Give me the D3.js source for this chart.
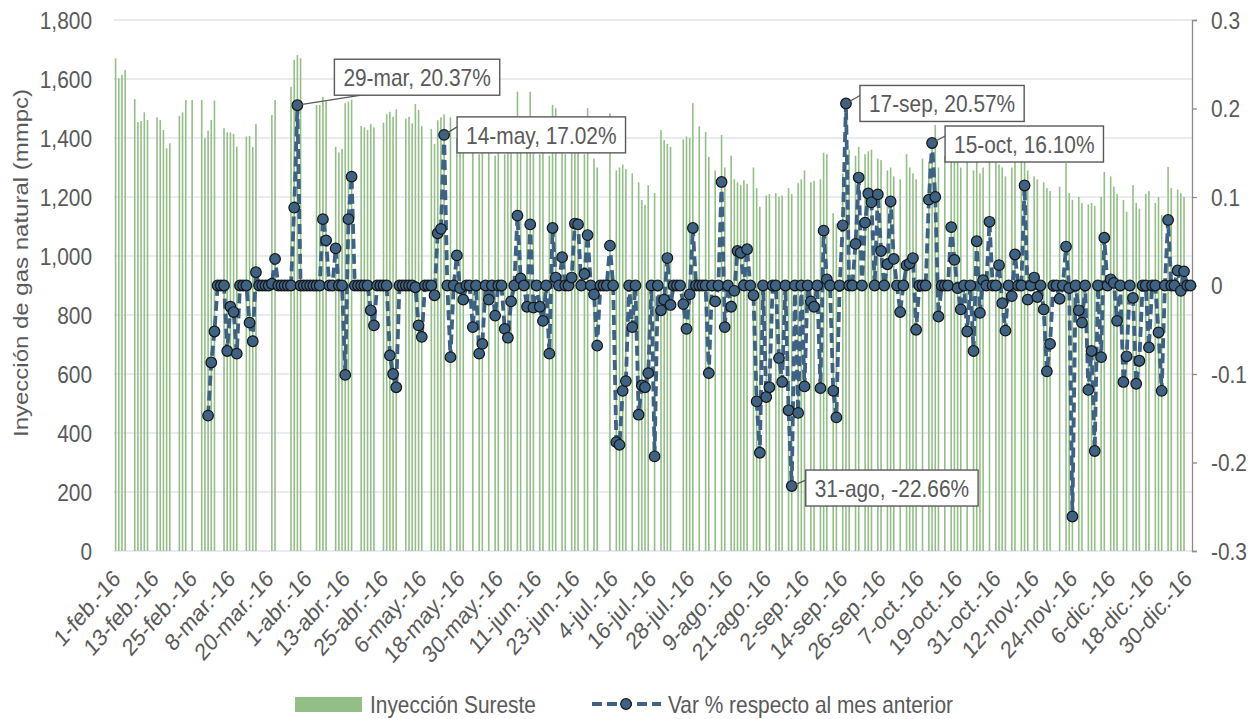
<!DOCTYPE html>
<html>
<head>
<meta charset="utf-8">
<script src="https://cdn.jsdelivr.net/npm/d3@7"></script>
<style>
  body { margin: 0; background: #fff; }
  text { font-family: "Liberation Sans", Arial, sans-serif; fill: #595959; }
</style>
</head>
<body>
<svg id="chart" width="1258" height="719"></svg>
<script>
// x axis labels, one every 12 categories
const tickLabels = ["1-feb.-16","13-feb.-16","25-feb.-16","8-mar.-16","20-mar.-16","1-abr.-16","13-abr.-16",
  "25-abr.-16","6-may.-16","18-may.-16","30-may.-16","11-jun.-16","23-jun.-16","4-jul.-16","16-jul.-16",
  "28-jul.-16","9-ago.-16","21-ago.-16","2-sep.-16","14-sep.-16","26-sep.-16","7-oct.-16","19-oct.-16",
  "31-oct.-16","12-nov.-16","24-nov.-16","6-dic.-16","18-dic.-16","30-dic.-16"];

// Inyección Sureste (mmpc), one value per category, 0 = no data
const inyeccion = [
  1670,1602,1614,1631,0,0,1532,1454,1458,1487,
  1461,0,0,1470,1461,1427,1365,1382,0,0,
  1475,1487,1529,0,1529,0,0,1529,1399,1425,
  1461,1527,0,0,1433,1419,1419,1414,1371,0,
  0,1405,1407,1369,1447,0,0,0,0,1478,
  1529,0,0,0,0,1574,1665,1681,1670,0,
  0,0,0,1512,1512,1540,1525,0,0,1370,
  1351,1363,1518,1523,1530,0,0,1441,1436,1427,
  1447,1436,0,0,1452,1481,1489,1472,1497,0,
  0,1466,1472,1450,1515,1495,1440,0,0,1430,
  1380,1460,1470,1480,0,1470,0,1400,1390,1375,
  0,0,1360,0,1345,1355,0,1350,0,1340,
  1355,0,1345,1350,1360,0,1557,1365,0,1355,
  1557,1350,0,1345,1350,0,1340,1512,1501,0,
  1350,1345,0,1355,1430,1420,0,1345,1501,0,
  1330,1300,0,0,0,1484,0,1290,1300,1310,
  1295,0,1280,0,1250,1190,1173,1240,0,1213,
  0,1427,1393,1380,1370,0,0,0,1395,1405,
  1400,1518,0,1440,0,1420,1336,0,1290,0,
  1410,1300,0,1340,1260,1250,1240,1257,1245,0,
  1300,1230,1167,0,1205,1210,0,1213,1200,1205,
  0,1230,1210,0,1247,1260,1290,0,1250,1255,
  0,1260,1350,1345,0,1145,1110,0,1280,1350,
  1360,0,1340,1370,0,1345,1355,1360,0,1330,
  1325,0,1290,1300,1270,0,1260,0,1345,1300,
  1280,1260,0,1330,0,1320,1400,1444,1300,0,
  1340,0,1430,1420,1440,1300,0,1330,0,1290,
  1340,1280,1300,0,1440,0,1420,1310,1300,1270,
  0,1300,1330,0,1320,1330,1290,0,1270,1260,
  0,1250,1230,1220,0,0,1235,0,1315,1213,
  1190,0,1200,1180,0,1175,1180,1170,0,1200,
  1285,0,1270,1235,1210,0,1190,1150,0,1240,
  1180,1160,0,1210,1220,0,1180,1200,1140,0,
  1302,1230,0,1225,1213,1200,0,0
];

// Var % respecto al mes anterior, same categories (null = no point)
const varPct = [
  null,null,null,null,null,null,null,null,null,null,
  null,null,null,null,null,null,null,null,null,null,
  null,null,null,null,null,null,null,null,null,-0.147,
  -0.087,-0.052,0,0,0,-0.074,-0.024,-0.030,-0.077,0,
  0,0,-0.042,-0.063,0.015,0,0,0,0,0.002,
  0.030,0,0,0,0,0,0.088,0.2037,0,0,
  0,0,0,0,0,0.075,0.051,0,0,0.042,
  0,0,-0.101,0.075,0.123,0,0,0,0,0,
  -0.028,-0.045,0,0,0,0,-0.079,-0.100,-0.115,0,
  0,0,0,0,-0.002,-0.045,-0.058,0,0,0,
  -0.011,0.059,0.064,0.1702,0,-0.081,0,0.034,-0.003,-0.016,
  0,0,-0.047,0,-0.077,-0.066,0,-0.016,0,-0.034,
  0,0,-0.049,-0.059,-0.018,0,0.079,0.008,0,-0.024,
  0.069,-0.025,0,-0.024,-0.040,0,-0.077,0.065,0.009,0,
  0.032,0,0,0.009,0.070,0.069,0,0.013,0.057,0,
  -0.010,-0.068,0,0,0,0.045,0,-0.177,-0.180,-0.119,
  -0.108,0,-0.047,0,-0.146,-0.113,-0.115,-0.099,0,-0.193,
  0,-0.028,-0.016,0.031,-0.022,0,0,0,-0.021,-0.049,
  -0.010,0.065,0,0,0,0,-0.099,0,-0.018,0,
  0.117,-0.047,0,-0.024,-0.006,0.039,0.037,0,0.041,0,
  -0.011,-0.131,-0.189,0,-0.126,-0.115,0,0,-0.082,-0.109,
  0,-0.141,-0.2266,0,-0.144,0,-0.114,0,-0.018,-0.024,
  0,-0.116,0.062,0.007,0,-0.119,-0.149,0,0.068,0.2057,
  0,0,0.047,0.122,0,0.071,0.104,0.094,0,0.103,
  0.039,0,0.024,0.095,0.030,0,-0.030,0,0.023,0.025,
  0.031,-0.050,0,0,0,0.097,0.1610,0.100,-0.035,0,
  0,0,0.066,0.029,-0.003,-0.027,0,-0.052,0,-0.074,
  0.050,-0.031,0.006,0,0.072,0,0,0.023,-0.020,-0.051,
  0,-0.012,0.035,0,0,0.113,-0.016,0,0.009,-0.013,
  0,-0.027,-0.097,-0.066,0,0,-0.015,0,0.044,-0.003,
  -0.261,0,-0.028,-0.042,0,-0.118,-0.074,-0.187,0,-0.081,
  0.054,0,0.007,0.003,-0.040,0,-0.109,-0.080,0,-0.014,
  -0.111,-0.085,0,0,-0.070,0,0,-0.053,-0.119,0,
  0.074,0,0,0.017,-0.006,0.016,0,0
];

const leftTicks = [0,200,400,600,800,1000,1200,1400,1600,1800];
const rightTicks = [-0.3,-0.2,-0.1,0,0.1,0.2,0.3];

// labelled points: category index + text
const callouts = [
  { i: 57,  text: "29-mar, 20.37%" },
  { i: 103, text: "14-may, 17.02%" },
  { i: 212, text: "31-ago, -22.66%" },
  { i: 229, text: "17-sep, 20.57%" },
  { i: 256, text: "15-oct, 16.10%" }
];
// where each box sits relative to its point (layout only)
const calloutOffset = { 57: [37, -46, "bottom"], 103: [13, -18, "left"], 212: [14, -16, "left"], 229: [14, -18, "left"], 256: [13, -17, "left"] };

const svg = d3.select("#chart");
const plotL = 114, plotR = 1192, plotT = 20, plotB = 551;
const SX = 0.87;           // horizontal squeeze of the lettering
const FS = 24;
const lineCol = "#3e6283", barCol = "#93bf87";

// text helper: squeezed horizontally around its anchor point
function label(g, tx, ty, str, anchor, extra) {
  return g.append("text")
    .attr("transform", "translate(" + tx + "," + ty + ") scale(" + SX + ",1)" + (extra || ""))
    .attr("text-anchor", anchor || "start")
    .attr("font-size", FS)
    .text(str);
}

const x = d3.scaleBand().domain(d3.range(inyeccion.length)).range([plotL, plotR]).padding(0);
const cx = i => x(i) + x.bandwidth() / 2;
const y = d3.scaleLinear().domain([0, 1800]).range([plotB, plotT]);
const y2 = d3.scaleLinear().domain([-0.3, 0.3]).range([plotB, plotT]);

// gridlines
svg.append("g").selectAll("line").data(leftTicks).enter().append("line")
  .attr("x1", plotL).attr("x2", plotR)
  .attr("y1", d => y(d)).attr("y2", d => y(d))
  .attr("stroke", "#e1e4ec").attr("stroke-width", 1.3);

// left axis labels
const fmt = d3.format(",");
const gl = svg.append("g");
leftTicks.forEach(d => label(gl, 92, y(d) + 8.5, fmt(d), "end"));

// right axis
const y2Axis = svg.append("g").attr("transform", "translate(" + plotR + ",0)")
  .call(d3.axisRight(y2).tickValues(rightTicks).tickFormat("").tickSize(5));
y2Axis.select(".domain").attr("stroke", "#8c8c8c").attr("stroke-width", 1.3);
y2Axis.selectAll("line").attr("stroke", "#8c8c8c").attr("stroke-width", 1.3);
const gr = svg.append("g");
rightTicks.forEach(d => label(gr, 1211, y2(d) + 8.5, d === 0 ? "0" : d.toFixed(1), "start"));

// bars
svg.append("g").selectAll("rect")
  .data(inyeccion.map((v, i) => ({ v, i })).filter(d => d.v > 0))
  .enter().append("rect")
  .attr("x", d => cx(d.i) - 0.8)
  .attr("width", 1.6)
  .attr("y", d => y(d.v))
  .attr("height", d => plotB - y(d.v))
  .attr("fill", barCol);

// x labels (-45° then squeezed, like the source)
const gx = svg.append("g");
tickLabels.forEach((d, k) => label(gx, cx(k * 12) + 6, 580, d, "end", " rotate(-45)"));

// y title
label(svg, 28, 263, "Inyección de gas natural (mmpc)", "middle", " rotate(-90)");

// line
const pts = varPct.map((v, i) => ({ v, i })).filter(d => d.v != null);
const line = d3.line().x(d => cx(d.i)).y(d => y2(d.v));
svg.append("path").datum(pts)
  .attr("d", line)
  .attr("fill", "none")
  .attr("stroke", lineCol)
  .attr("stroke-width", 3.8)
  .attr("stroke-dasharray", "10,5");

svg.append("g").selectAll("circle").data(pts).enter().append("circle")
  .attr("cx", d => cx(d.i)).attr("cy", d => y2(d.v)).attr("r", 5.3)
  .attr("fill", lineCol).attr("stroke", "#151515").attr("stroke-width", 1.2);

// callouts
callouts.forEach(c => {
  const px = cx(c.i), py = y2(varPct[c.i]);
  const off = calloutOffset[c.i];
  const bx = px + off[0], by = py + off[1];
  const g = svg.append("g");
  const t = label(g, bx + 9, by + 27, c.text, "start");
  const w = t.node().getComputedTextLength() * SX + 18, h = 36;
  const lx = off[2] === "bottom" ? bx + 27 : bx;
  const ly = off[2] === "bottom" ? by + h : by + 10;
  g.insert("line", "text").attr("x1", px).attr("y1", py).attr("x2", lx).attr("y2", ly)
    .attr("stroke", "#595959").attr("stroke-width", 1.3);
  g.insert("rect", "text").attr("x", bx).attr("y", by).attr("width", w).attr("height", h)
    .attr("fill", "#fff").attr("stroke", "#595959").attr("stroke-width", 1.4);
});

// legend
const lg = svg.append("g");
lg.append("rect").attr("x", 295).attr("y", 697).attr("width", 67).attr("height", 15).attr("fill", barCol);
label(lg, 370, 713, "Inyección Sureste", "start");
lg.append("line").attr("x1", 592).attr("x2", 661).attr("y1", 704).attr("y2", 704)
  .attr("stroke", lineCol).attr("stroke-width", 3.8).attr("stroke-dasharray", "10,5");
lg.append("circle").attr("cx", 626).attr("cy", 704).attr("r", 5.3)
  .attr("fill", lineCol).attr("stroke", "#151515").attr("stroke-width", 1.2);
label(lg, 668, 713, "Var % respecto al mes anterior", "start");
</script>
</body>
</html>
